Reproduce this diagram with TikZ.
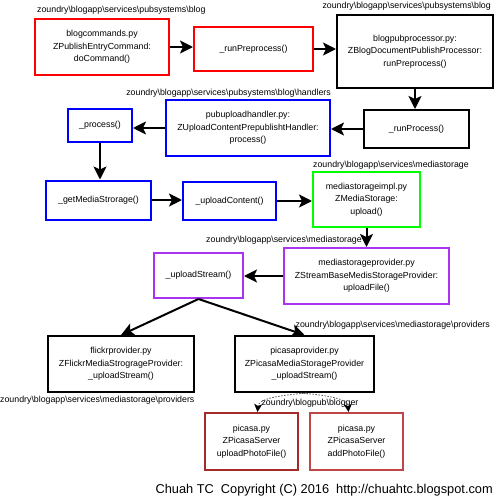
\documentclass[tikz,border=0pt]{standalone}
\usepackage{fontspec}
\setmainfont{Liberation Sans}
\usetikzlibrary{arrows.meta}
\definecolor{boxred}{RGB}{255,0,0}
\definecolor{boxblue}{RGB}{0,0,255}
\definecolor{boxgreen}{RGB}{0,255,0}
\definecolor{boxpurple}{RGB}{170,50,240}
\definecolor{boxbrown}{RGB}{165,42,42}
\definecolor{boxrose}{RGB}{190,70,70}
\tikzset{
    codebox/.style={draw=black, line width=2pt, fill=white, align=center, inner sep=0pt,
        font=\fontsize{8.8}{12.5}\selectfont},
    pathlabel/.style={inner sep=0pt, font=\fontsize{8.8}{10}\selectfont},
    callarrow/.style={draw=black, line width=2pt, -{Stealth[length=13pt, width=13pt, inset=3pt]}},
    usesarrow/.style={draw=gray!70!black, line width=0.8pt, dash pattern=on 1.5pt off 1.5pt,
        -{Stealth[length=8pt, width=8pt, inset=2pt, black]}},
}
\begin{document}
\begin{tikzpicture}[x=1pt, y=-1pt]
    \useasboundingbox (0,0) rectangle (496,498);
    % boxes
    \node[codebox, draw=boxred, minimum width=134pt, minimum height=56pt] (blogcommands) at (102,47) {blogcommands.py\\ZPublishEntryCommand:\\doCommand()};
    \node[codebox, draw=boxred, minimum width=119pt, minimum height=44pt] (runpreprocess) at (253.5,49) {\_runPreprocess()};
    \node[codebox, minimum width=156pt, minimum height=73pt] (blogpubprocessor) at (415,51.5) {blogpubprocessor.py:\\ZBlogDocumentPublishProcessor:\\runPreprocess()};
    \node[codebox, minimum width=105pt, minimum height=38pt] (runprocess) at (416.5,129) {\_runProcess()};
    \node[codebox, draw=boxblue, minimum width=164pt, minimum height=56pt] (pubuploadhandler) at (248,128) {pubuploadhandler.py:\\ZUploadContentPrepublishtHandler:\\process()};
    \node[codebox, draw=boxblue, minimum width=64pt, minimum height=33pt] (process) at (100,125.5) {\_process()};
    \node[codebox, draw=boxblue, minimum width=105pt, minimum height=39pt] (getmediastorage) at (98.5,200) {\_getMediaStrorage()};
    \node[codebox, draw=boxblue, minimum width=93pt, minimum height=38pt] (uploadcontent) at (229.5,201) {\_uploadContent()};
    \node[codebox, draw=boxgreen, minimum width=107pt, minimum height=55pt] (mediastorageimpl) at (366.5,199.5) {mediastorageimpl.py\\ZMediaStorage:\\upload()};
    \node[codebox, draw=boxpurple, minimum width=165pt, minimum height=56pt] (mediastorageprovider) at (366.5,276) {mediastorageprovider.py\\ZStreamBaseMedisStorageProvider:\\uploadFile()};
    \node[codebox, draw=boxpurple, minimum width=89pt, minimum height=45pt] (uploadstream) at (198.5,275.5) {\_uploadStream()};
    \node[codebox, minimum width=146pt, minimum height=56pt] (flickrprovider) at (121,364) {flickrprovider.py\\ZFlickrMediaStrogrageProvider:\\\_uploadStream()};
    \node[codebox, minimum width=139pt, minimum height=56pt] (picasaprovider) at (304.5,364) {picasaprovider.py\\ZPicasaMediaStorageProvider\\\_uploadStream()};
    \node[codebox, draw=boxbrown, minimum width=93pt, minimum height=57pt] (picasaupload) at (251.5,441.5) {picasa.py\\ZPicasaServer\\uploadPhotoFile()};
    \node[codebox, draw=boxrose, minimum width=93pt, minimum height=57pt] (picasaadd) at (356.5,441.5) {picasa.py\\ZPicasaServer\\addPhotoFile()};
    % package paths
    \node[pathlabel, anchor=west] (pathblog) at (37,10) {zoundry\textbackslash blogapp\textbackslash services\textbackslash pubsystems\textbackslash blog};
    \node[pathlabel, anchor=east] (pathblogb) at (491,6) {zoundry\textbackslash blogapp\textbackslash services\textbackslash pubsystems\textbackslash blog};
    \node[pathlabel, anchor=east] (pathhandlers) at (331,93) {zoundry\textbackslash blogapp\textbackslash services\textbackslash pubsystems\textbackslash blog\textbackslash handlers};
    \node[pathlabel, anchor=west] (pathmedia) at (313,165) {zoundry\textbackslash blogapp\textbackslash services\textbackslash mediastorage};
    \node[pathlabel, anchor=east] (pathmediab) at (362,240) {zoundry\textbackslash blogapp\textbackslash services\textbackslash mediastorage};
    \node[pathlabel, anchor=west] (pathproviders) at (0,400) {zoundry\textbackslash blogapp\textbackslash services\textbackslash mediastorage\textbackslash providers};
    \node[pathlabel, anchor=east] (pathprovidersb) at (490,325) {zoundry\textbackslash blogapp\textbackslash services\textbackslash mediastorage\textbackslash providers};
    \node[pathlabel] (pathblogger) at (310,403) {zoundry\textbackslash blogpub\textbackslash blogger};
    \node[font=\fontsize{12.8}{14}\selectfont, anchor=east, inner sep=0pt] (copyright) at (493,490) {Chuah TC\ \ Copyright (C) 2016\ \ http://chuahtc.blogspot.com};
    % calls
    \draw[callarrow] (blogcommands.east) -- (blogcommands.east -| runpreprocess.west);
    \draw[callarrow] (runpreprocess.east) -- (runpreprocess.east -| blogpubprocessor.west);
    \draw[callarrow] (blogpubprocessor.south) -- (blogpubprocessor.south |- runprocess.north);
    \draw[callarrow] (runprocess.west) -- (runprocess.west -| pubuploadhandler.east);
    \draw[callarrow] (pubuploadhandler.west) -- (pubuploadhandler.west -| process.east);
    \draw[callarrow] (process.south) -- (process.south |- getmediastorage.north);
    \draw[callarrow] (getmediastorage.east) -- (getmediastorage.east -| uploadcontent.west);
    \draw[callarrow] (uploadcontent.east) -- (uploadcontent.east -| mediastorageimpl.west);
    \draw[callarrow] (mediastorageimpl.south) -- (mediastorageprovider.north);
    \draw[callarrow] (mediastorageprovider.west) -- (mediastorageprovider.west -| uploadstream.east);
    \draw[callarrow] (uploadstream.south) -- (flickrprovider.north);
    \draw[callarrow] (uploadstream.south) -- (picasaprovider.north);
    % uses
    \draw[usesarrow] ([xshift=2pt]picasaprovider.south) .. controls +(-35,3) and +(1,-12) .. ([xshift=6pt]picasaupload.north);
    \draw[usesarrow] ([xshift=-4pt]picasaprovider.south) .. controls +(35,3) and +(-1,-12) .. ([xshift=-8pt]picasaadd.north);
\end{tikzpicture}
\end{document}
